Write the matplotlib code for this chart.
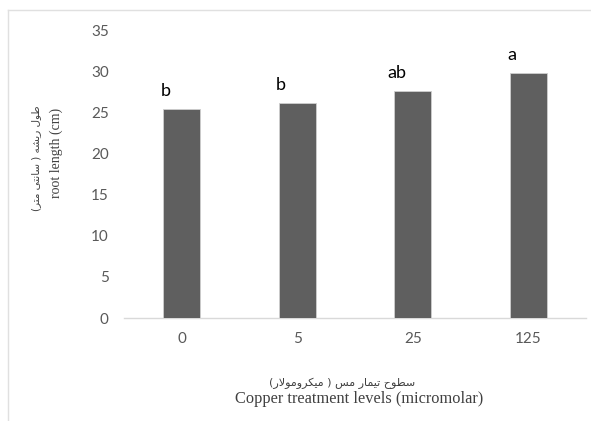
import matplotlib
matplotlib.use("Agg")
from matplotlib import pyplot as plt
from matplotlib.lines import Line2D

# copper levels (micromolar) and mean root length (cm)
levels = ["0", "5", "25", "125"]
root_length = [25.5, 26.2, 27.7, 29.9]
groups = ["b", "b", "ab", "a"]
y_ticks = [0, 5, 10, 15, 20, 25, 30, 35]

# arabic letter forms: isolated, final, initial, medial (None = does not join left)
FORMS = {
    "\u0627": ("\uFE8D", "\uFE8E", None, None),
    "\u062A": ("\uFE95", "\uFE96", "\uFE97", "\uFE98"),
    "\u062D": ("\uFEA1", "\uFEA2", "\uFEA3", "\uFEA4"),
    "\u0631": ("\uFEAD", "\uFEAE", None, None),
    "\u0633": ("\uFEB1", "\uFEB2", "\uFEB3", "\uFEB4"),
    "\u0634": ("\uFEB5", "\uFEB6", "\uFEB7", "\uFEB8"),
    "\u0637": ("\uFEC1", "\uFEC2", "\uFEC3", "\uFEC4"),
    "\u0644": ("\uFEDD", "\uFEDE", "\uFEDF", "\uFEE0"),
    "\u0645": ("\uFEE1", "\uFEE2", "\uFEE3", "\uFEE4"),
    "\u0646": ("\uFEE5", "\uFEE6", "\uFEE7", "\uFEE8"),
    "\u0647": ("\uFEE9", "\uFEEA", "\uFEEB", "\uFEEC"),
    "\u0648": ("\uFEED", "\uFEEE", None, None),
    "\u06A9": ("\uFB8E", "\uFB8F", "\uFB90", "\uFB91"),
    "\u06CC": ("\uFBFC", "\uFBFD", "\uFBFE", "\uFBFF"),
}
MIRROR = {"(": ")", ")": "("}


def shape_rtl(text):
    # join the letters and flip into visual (left to right) order
    chars = list(text)
    out = []
    i = 0
    while i < len(chars):
        c = chars[i]
        prev = chars[i - 1] if i > 0 else None
        joins_prev = prev in FORMS and FORMS[prev][2] is not None
        if c == "\u0644" and i + 1 < len(chars) and chars[i + 1] == "\u0627":
            out.append("\uFEFC" if joins_prev else "\uFEFB")
            i += 2
            continue
        if c in FORMS:
            nxt = chars[i + 1] if i + 1 < len(chars) else None
            joins_next = FORMS[c][2] is not None and nxt in FORMS
            iso, fin, ini, med = FORMS[c]
            if joins_prev and joins_next:
                out.append(med)
            elif joins_prev:
                out.append(fin)
            elif joins_next:
                out.append(ini)
            else:
                out.append(iso)
        else:
            out.append(MIRROR.get(c, c))
        i += 1
    return "".join(reversed(out))


fa_ylabel = shape_rtl("طول ریشه ( سانتی متر)")
fa_xlabel = shape_rtl("سطوح تیمار مس ( میکرومولار)")

plt.rcParams['font.family'] = ['Lato', 'DejaVu Sans']

fig = plt.figure(figsize=(5.91, 4.21), dpi=100)
W, H = 591, 421
ax = fig.add_axes([124 / W, 1 - 318 / H, (586 - 124) / W, (318 - 31) / H])

x = list(range(len(levels)))
bars = ax.bar(x, root_length, width=0.32, color="#5f5f5f", edgecolor="#cfcfcf", linewidth=0.6, zorder=3)

for xi, val, g in zip(x, root_length, groups):
    ax.annotate(g, (xi - 0.14, val), xytext=(0, 7), textcoords="offset points",
                ha="center", va="bottom", fontsize=13, color="black")

ax.set_xlim(-0.5, len(levels) - 0.5)
ax.set_ylim(0, 35)
ax.set_yticks(y_ticks)
ax.set_xticks(x)
ax.set_xticklabels(levels)
ax.tick_params(axis="both", length=0, labelsize=11, labelcolor="#595959")
ax.tick_params(axis="y", pad=11)
ax.tick_params(axis="x", pad=10)
for s in ["top", "right", "left"]:
    ax.spines[s].set_visible(False)
ax.spines["bottom"].set_color("#d9d9d9")
ax.spines["bottom"].set_linewidth(1.0)

# axis titles, persian line above english line
fig.text(342 / W, 1 - 383 / H, fa_xlabel, ha="center", va="center", fontsize=8,
         color="#404040", family="DejaVu Sans")
fig.text(359 / W, 1 - 399 / H, "Copper treatment levels (micromolar)", ha="center", va="center",
         fontsize=11.8, color="#404040", family="Liberation Serif")
fig.text(36 / W, 1 - 158 / H, fa_ylabel, ha="center", va="center", rotation=90, fontsize=7.5,
         color="#404040", family="DejaVu Sans")
fig.text(56 / W, 1 - 153 / H, "root length (cm)", ha="center", va="center", rotation=90,
         fontsize=10, color="#404040", family="Liberation Serif")

# chart frame edges
fig.add_artist(Line2D([8 / W, 8 / W], [0, 1 - 10 / H], color="#e0e0e0", lw=1.0))
fig.add_artist(Line2D([8 / W, 1], [1 - 10 / H, 1 - 10 / H], color="#e0e0e0", lw=1.0))

fig.savefig("out.png", dpi=100)
